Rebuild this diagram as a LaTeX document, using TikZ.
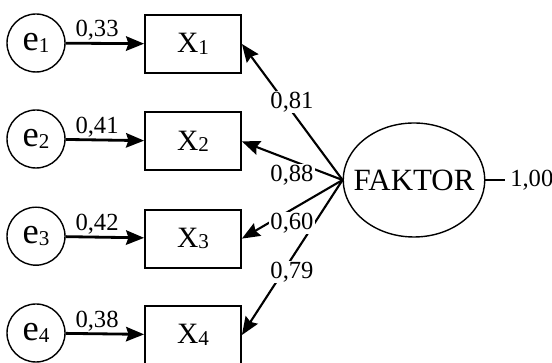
\documentclass[tikz,border=0pt]{standalone}
\usepackage{fontspec}
\setmainfont{Liberation Serif}
\usetikzlibrary{shapes.geometric,arrows.meta}

% small index set on the line, as in the model output
\newcommand{\idx}[1]{{\fontsize{15}{16}\selectfont\raisebox{-1pt}{#1}}}

\begin{document}
\begin{tikzpicture}[
		err/.style={draw,circle,minimum size=1.45cm,inner sep=0pt,line width=1pt,font=\fontsize{26}{28}\selectfont},
		obs/.style={draw,rectangle,minimum width=2.4cm,minimum height=1.45cm,line width=1.3pt,font=\fontsize{21}{24}\selectfont},
		lat/.style={draw,ellipse,minimum width=3.45cm,minimum height=2.85cm,inner xsep=-0.26cm,inner ysep=0pt,line width=1pt,font=\fontsize{22}{24}\selectfont},
		num/.style={font=\fontsize{17.5}{19}\selectfont,inner sep=1pt},
		load/.style={num,fill=white},
		arr/.style={-{Stealth[length=4.5mm,width=3.6mm,inset=0.6mm]}}
	]
			\useasboundingbox (0,0) rectangle (13.8,9.075);
			% error terms
			\node[err] (e1) at (0.9,8.0) {e\idx{1}};
			\node[err] (e2) at (0.9,5.6) {e\idx{2}};
			\node[err] (e3) at (0.9,3.17) {e\idx{3}};
			\node[err] (e4) at (0.9,0.75) {e\idx{4}};
			% indicators
			\node[obs] (x1) at (4.825,7.975) {X\idx{1}};
			\node[obs] (x2) at (4.825,5.54) {X\idx{2}};
			\node[obs] (x3) at (4.825,3.11) {X\idx{3}};
			\node[obs] (x4) at (4.825,0.7) {X\idx{4}};
			% latent factor and its variance
			\node[lat] (fak) at (10.35,4.575) {FAKTOR};
			\node[num,anchor=west,inner sep=0.12cm] (var) at (12.63,4.575) {1,00};
			\draw[line width=1.7pt] (fak) -- (var);
			% errors into indicators
			\draw[arr,line width=2pt] (e1) -- node[num,above,pos=0.4]{0,33} (x1);
			\draw[arr,line width=2pt] (e2) -- node[num,above,pos=0.4]{0,41} (x2);
			\draw[arr,line width=2pt] (e3) -- node[num,above,pos=0.4]{0,42} (x3);
			\draw[arr,line width=2pt] (e4) -- node[num,above,pos=0.4]{0,38} (x4);
			% loadings
			\draw[arr,line width=1.5pt] (fak.west) -- (x1.east);
			\draw[arr,line width=1.5pt] (fak.west) -- (x2.east);
			\draw[arr,line width=1.5pt] (fak.west) -- (x3.east);
			\draw[arr,line width=1.5pt] (fak.west) -- (x4.east);
			\node[load] (l1) at (7.3,6.525) {0,81};
			\node[load] (l2) at (7.3,4.7) {0,88};
			\node[load] (l3) at (7.3,3.5) {0,60};
			\node[load] (l4) at (7.3,2.275) {0,79};
		\end{tikzpicture}
\end{document}
